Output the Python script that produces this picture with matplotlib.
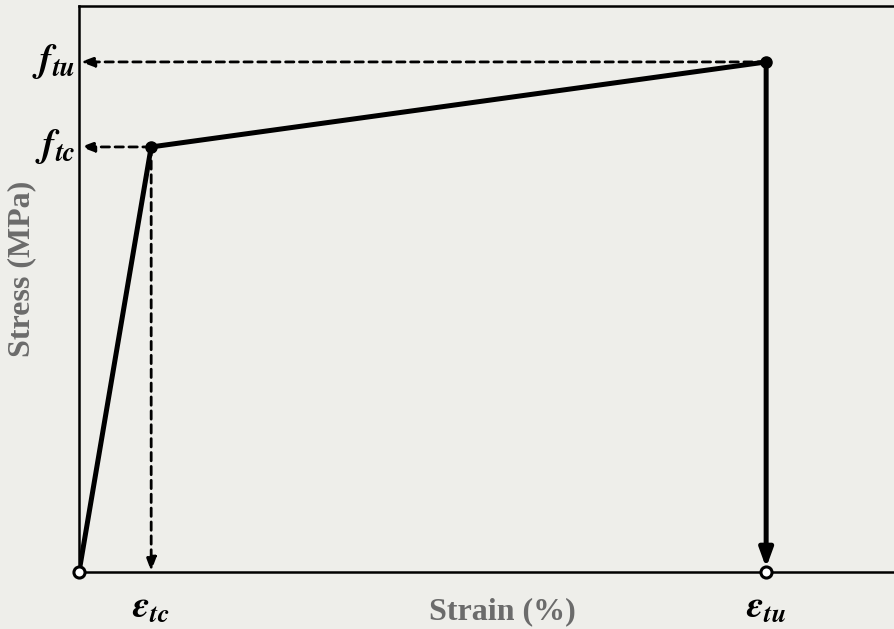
import numpy as np
import matplotlib.pyplot as plt

# idealised tensile stress-strain curve
strain = [0.0, 0.21, 2.0]
stress = [0.0, 5.0, 6.0]
eps_labels = [r'$\mathbfit{\varepsilon}_{\mathbfit{tc}}$', r'$\mathbfit{\varepsilon}_{\mathbfit{tu}}$']
f_labels = [r'$\mathbfit{f}_{\mathbfit{tc}}$', r'$\mathbfit{f}_{\mathbfit{tu}}$']

bg = '#eeeeea'
plt.rcParams['mathtext.fontset'] = 'stix'

fig = plt.figure(figsize=(8.94, 6.29), dpi=100, facecolor=bg)
ax = fig.add_axes([0.0884, 0.0906, 0.92, 0.9])
ax.set_facecolor(bg)
ax.set_xlim(0, 2.394)
ax.set_ylim(0, 6.659)

for s in ['left', 'top', 'bottom', 'right']:
    ax.spines[s].set_linewidth(1.8)
ax.set_xticks([])
ax.set_yticks([])

# main curve
ax.plot(strain, stress, color='black', lw=3.6, solid_capstyle='round', zorder=3)
ax.plot(strain[1:], stress[1:], 'o', color='black', ms=8, zorder=4)

# drop at ultimate strain
ax.annotate('', xy=(strain[2], 0.05), xytext=(strain[2], stress[2]),
            arrowprops=dict(arrowstyle='-|>,head_length=1.1,head_width=0.4', lw=3.6, color='black',
                            shrinkA=0, shrinkB=0), zorder=3)

# open circles on the axis
ax.plot([strain[0], strain[2]], [0, 0], 'o', mfc='white', mec='black', mew=2.2, ms=8,
        zorder=5, clip_on=False)

# dashed guide arrows
dash = dict(arrowstyle='-|>,head_length=0.8,head_width=0.3', lw=2.0, ls=(0, (3, 2)),
            color='black', shrinkA=0, shrinkB=0)
ax.annotate('', xy=(0.005, stress[2]), xytext=(strain[2], stress[2]), arrowprops=dash)
ax.annotate('', xy=(0.005, stress[1]), xytext=(strain[1], stress[1]), arrowprops=dash)
ax.annotate('', xy=(strain[1], 0.01), xytext=(strain[1], stress[1]), arrowprops=dash)

# symbolic tick labels
for y, lab in zip(stress[1:], f_labels):
    ax.text(-0.01, y, lab, ha='right', va='center', fontsize=28)
for x, lab in zip(strain[1:], eps_labels):
    ax.text(x, -0.2, lab, ha='center', va='top', fontsize=27)

ax.set_xlabel('Strain (%)', fontsize=23, fontweight='bold', color='#6b6b6b',
              family='Liberation Serif')
ax.set_ylabel('Stress (MPa)', fontsize=23, fontweight='bold', color='#6b6b6b',
              family='Liberation Serif')
ax.xaxis.set_label_coords(0.515, -0.045)
ax.yaxis.set_label_coords(-0.052, 0.535)

fig.savefig('out.png', dpi=100, facecolor=bg)
